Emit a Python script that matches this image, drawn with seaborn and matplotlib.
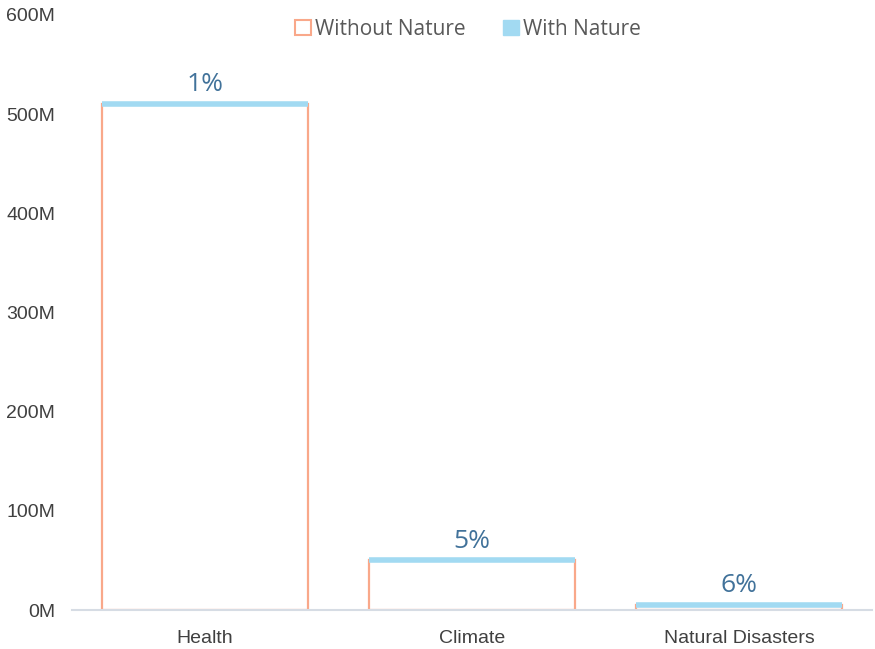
import pandas as pd
import seaborn as sns
import matplotlib.pyplot as plt
from matplotlib.patches import Patch

categories = ['Health', 'Climate', 'Natural Disasters']
without_nature = [510, 50, 5]          # millions
reduction_pct = [1, 5, 6]              # % saved with nature
with_nature = [v * (1 - p / 100) for v, p in zip(without_nature, reduction_pct)]
y_ticks = [0, 100, 200, 300, 400, 500, 600]

SALMON = '#F9A88A'
BLUE = '#A2DAF2'
LABEL_BLUE = '#41729A'

sns.set_style('white')
plt.rcParams['font.family'] = ['Open Sans', 'DejaVu Sans']

df = pd.DataFrame({'category': categories, 'without': without_nature, 'with': with_nature})

fig = plt.figure(figsize=(8.75, 6.49), dpi=100)
ax = fig.add_axes([0.082, 0.060, 0.915, 0.917])

sns.barplot(data=df, x='category', y='without', color='white', edgecolor=SALMON,
            linewidth=1.6, width=0.77, ax=ax)

# thick blue cap at the top of each bar, with the saving label above it
for patch, top, pct in zip(ax.patches, without_nature, reduction_pct):
    x0 = patch.get_x()
    x1 = x0 + patch.get_width()
    ax.hlines(top, x0, x1, color=BLUE, linewidth=4, zorder=5)
    ax.text((x0 + x1) / 2, top + 7, f'{pct}%', ha='center', va='bottom',
            fontsize=19, color=LABEL_BLUE)

ax.set_ylim(0, 600)
ax.set_xlim(-0.5, 2.5)
ax.set_yticks(y_ticks)
ax.set_yticklabels([f'{t}M' for t in y_ticks], family='Liberation Sans', fontsize=14, color='#404040')
ax.tick_params(axis='y', pad=12, length=0)
ax.tick_params(axis='x', pad=14, length=0)
for lbl in ax.get_xticklabels():
    lbl.set_fontfamily('Liberation Sans')
    lbl.set_fontsize(14)
    lbl.set_color('#404040')
ax.set_xlabel('')
ax.set_ylabel('')
for s in ['top', 'right', 'left']:
    ax.spines[s].set_visible(False)
ax.spines['bottom'].set_color('#D6DCE4')
ax.spines['bottom'].set_linewidth(1.5)

handles = [Patch(facecolor='white', edgecolor=SALMON, linewidth=1.5, label='Without Nature'),
           Patch(facecolor=BLUE, edgecolor=BLUE, label='With Nature')]
fig.legend(handles=handles, loc='upper center', bbox_to_anchor=(0.535, 1.0), ncol=2,
           frameon=False, fontsize=15, labelcolor='#595959', handlelength=0.75,
           handleheight=0.75, handletextpad=0.2, columnspacing=1.8)

plt.savefig('out.png', dpi=100)
